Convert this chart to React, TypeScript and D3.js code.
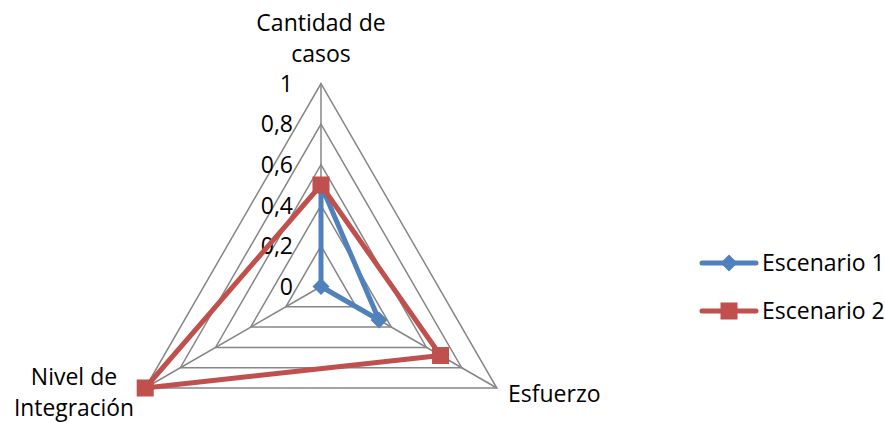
import React from "react";
import * as d3 from "d3";

// Axis categories, clockwise from the top
const categories = ["Cantidad de casos", "Esfuerzo", "Nivel de Integración"];
// Series values per category (same order)
const escenario1 = [0.5, 0.33, 0];
const escenario2 = [0.5, 0.68, 1];
const seriesNames = ["Escenario 1", "Escenario 2"];
const tickValues = [0, 0.2, 0.4, 0.6, 0.8, 1];
const tickLabels = ["0", "0,2", "0,4", "0,6", "0,8", "1"];

const W = 885;
const H = 423;
const cx = 321;
const cy = 286.5;
const R = 203;
const FONT = "'Open Sans', sans-serif";
const FS = 23;
const BLUE = "#4F81BD";
const RED = "#C0504D";
const GRID = "#868686";

export default function App() {
  const r = d3.scaleLinear().domain([0, 1]).range([0, R]);
  const angle = d3
    .scaleLinear()
    .domain([0, categories.length])
    .range([-Math.PI / 2, (3 * Math.PI) / 2]);

  const pt = (i: number, v: number): [number, number] => [
    cx + r(v) * Math.cos(angle(i)),
    cy + r(v) * Math.sin(angle(i)),
  ];

  const closed = d3.line().curve(d3.curveLinearClosed);

  const rings = tickValues.filter((t) => t > 0);

  const series = [
    { name: seriesNames[0], values: escenario1, color: BLUE, marker: "diamond" },
    { name: seriesNames[1], values: escenario2, color: RED, marker: "square" },
  ];

  const marker = (kind: string, x: number, y: number, color: string, key: string) =>
    kind === "square" ? (
      <rect key={key} x={x - 8.5} y={y - 8.5} width={17} height={17} fill={color} />
    ) : (
      <path
        key={key}
        d={`M${x},${y - 8.5}L${x + 8.5},${y}L${x},${y + 8.5}L${x - 8.5},${y}Z`}
        fill={color}
      />
    );

  return (
    <svg
      width={W}
      height={H}
      style={{ position: "absolute", left: 0, top: 0, background: "#fff" }}
      fontFamily={FONT}
    >
      {/* grid rings */}
      {rings.map((t) => (
        <path
          key={t}
          d={closed(categories.map((_, i) => pt(i, t))) || ""}
          fill="none"
          stroke={GRID}
          strokeWidth={1.5}
        />
      ))}
      {/* spokes */}
      {categories.map((_, i) => {
        const [x, y] = pt(i, 1);
        return <line key={i} x1={cx} y1={cy} x2={x} y2={y} stroke={GRID} strokeWidth={1.5} />;
      })}
      {/* tick labels */}
      {tickValues.map((t, k) => (
        <text
          key={t}
          x={cx - 28}
          y={cy - r(t)}
          dy="0.36em"
          textAnchor="end"
          fontSize={FS}
          fill="#000"
        >
          {tickLabels[k]}
        </text>
      ))}
      {/* series */}
      {series.map((s) => (
        <g key={s.name}>
          <path
            d={closed(s.values.map((v, i) => pt(i, v))) || ""}
            fill="none"
            stroke={s.color}
            strokeWidth={5}
            strokeLinejoin="round"
          />
          {s.values.map((v, i) => {
            const [x, y] = pt(i, v);
            return marker(s.marker, x, y, s.color, `${s.name}-${i}`);
          })}
        </g>
      ))}
      {/* category labels */}
      <text x={cx} y={31} textAnchor="middle" fontSize={FS}>
        Cantidad de
      </text>
      <text x={cx} y={62} textAnchor="middle" fontSize={FS}>
        casos
      </text>
      <text x={508} y={401.5} textAnchor="start" fontSize={FS}>
        {categories[1]}
      </text>
      <text x={74} y={385} textAnchor="middle" fontSize={FS}>
        Nivel de
      </text>
      <text x={74} y={416} textAnchor="middle" fontSize={FS} textLength={120} lengthAdjust="spacingAndGlyphs">
        Integración
      </text>
      {/* legend */}
      {series.map((s, k) => {
        const y = 263 + k * 48;
        return (
          <g key={s.name}>
            <line x1={702} x2={756} y1={y} y2={y} stroke={s.color} strokeWidth={5} strokeLinecap="round" />
            {marker(s.marker, 729, y, s.color, `leg-${k}`)}
            <text x={762} y={y} dy="0.36em" fontSize={FS}>
              {s.name}
            </text>
          </g>
        );
      })}
    </svg>
  );
}
